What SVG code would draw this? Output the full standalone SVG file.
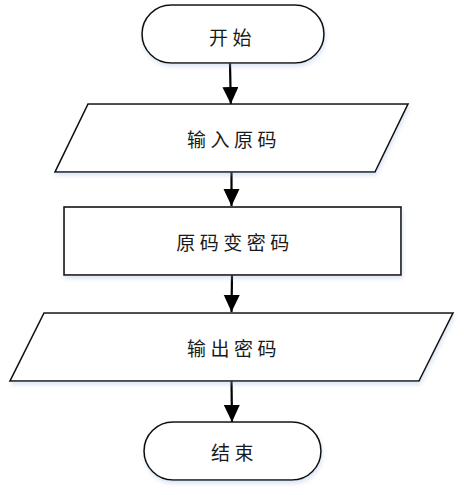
<svg xmlns="http://www.w3.org/2000/svg" width="464" height="495" viewBox="0 0 464 495">
  <style>
    .shape { fill: #ffffff; stroke: #111111; stroke-width: 1.6; filter: url(#sh); }
    .label { font-family: "Noto Sans CJK SC", "Noto Sans", sans-serif; font-size: 19px; fill: #1a1a1a; text-anchor: middle; dominant-baseline: central; letter-spacing: 4.5px; }
    .conn { stroke: #000000; stroke-width: 2.2; fill: none; marker-end: url(#arrow); }
  </style>
  <defs>
    <filter id="sh" x="-10%" y="-20%" width="120%" height="150%">
      <feDropShadow dx="1" dy="3" stdDeviation="2" flood-color="#9db8e0" flood-opacity="0.35"/>
    </filter>
    <marker id="arrow" markerUnits="userSpaceOnUse" markerWidth="18" markerHeight="18" refX="17" refY="8" orient="auto">
      <path d="M0,0 L17,8 L0,16 Z" fill="#000000"/>
    </marker>
  </defs>
  <rect width="464" height="495" fill="#ffffff"/>
  <g id="connectors">
    <line class="conn" x1="230" y1="63" x2="230.8" y2="104"/>
    <line class="conn" x1="231.5" y1="172" x2="231.5" y2="206"/>
    <line class="conn" x1="232" y1="275" x2="231.5" y2="312"/>
    <line class="conn" x1="231.5" y1="381" x2="232" y2="422"/>
  </g>
  <g id="start">
    <rect class="shape" x="142" y="5" width="182" height="58" rx="29" ry="29"/>
    <text class="label" x="232.5" y="36">开始</text>
  </g>
  <g id="input">
    <polygon class="shape" points="88,104 408,104 375,172 55,172"/>
    <text class="label" x="234" y="138">输入原码</text>
  </g>
  <g id="process">
    <rect class="shape" x="64" y="207" width="337" height="68"/>
    <text class="label" x="235" y="241">原码变密码</text>
  </g>
  <g id="output">
    <polygon class="shape" points="44,313 453,313 419,381 10,381"/>
    <text class="label" x="234" y="347">输出密码</text>
  </g>
  <g id="end">
    <rect class="shape" x="144" y="422" width="177" height="58" rx="29" ry="29"/>
    <text class="label" x="234.5" y="451">结束</text>
  </g>
</svg>
